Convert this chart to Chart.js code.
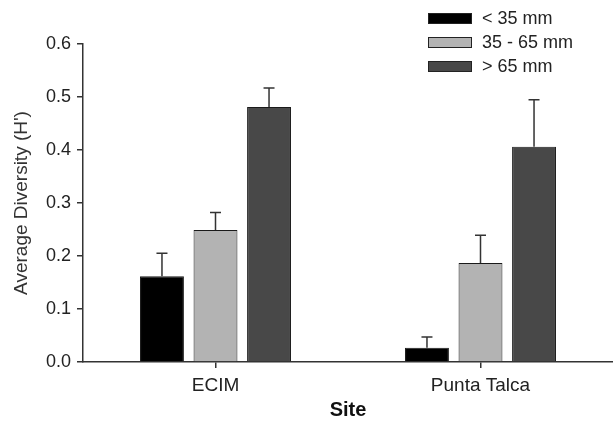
<!DOCTYPE html>
<html>
<head>
<meta charset="utf-8">
<script src="https://cdn.jsdelivr.net/npm/chart.js@4"></script>
<style>
  html, body { margin: 0; padding: 0; background: #fff; }
  #wrap { position: relative; width: 613px; height: 423px; }
  #legend { position: absolute; left: 428px; top: 6px; font-family: "Liberation Sans", Arial, sans-serif; font-size: 18px; color: #222; }
  #legend .row { height: 24px; display: flex; align-items: center; }
  #legend .box { width: 42px; height: 9px; border: 1px solid #222; margin-right: 10px; }
</style>
</head>
<body>
<div id="wrap">
  <canvas id="chart" width="613" height="423"></canvas>
  <div id="legend"></div>
</div>
<script>
// Data
const sites = ['ECIM', 'Punta Talca'];
const sizeClasses = ['< 35 mm', '35 - 65 mm', '> 65 mm'];
const small = [0.162, 0.027];
const smallErr = [0.043, 0.020];
const medium = [0.249, 0.187];
const mediumErr = [0.033, 0.052];
const large = [0.481, 0.406];
const largeErr = [0.036, 0.089];
const yTicks = [0, 0.1, 0.2, 0.3, 0.4, 0.5, 0.6];

const fills = ['#000000', '#b3b3b3', '#484848'];
const errors = [smallErr, mediumErr, largeErr];

// Upward error bars with a cap
const errorBars = {
  id: 'errorBars',
  afterDatasetsDraw(chart) {
    const ctx = chart.ctx;
    const yScale = chart.scales.y;
    ctx.save();
    ctx.strokeStyle = '#333';
    ctx.lineWidth = 1.5;
    chart.data.datasets.forEach((ds, di) => {
      const meta = chart.getDatasetMeta(di);
      meta.data.forEach((bar, i) => {
        const top = yScale.getPixelForValue(ds.data[i] + errors[di][i]);
        ctx.beginPath();
        ctx.moveTo(bar.x, bar.y);
        ctx.lineTo(bar.x, top);
        ctx.moveTo(bar.x - 5.5, top);
        ctx.lineTo(bar.x + 5.5, top);
        ctx.stroke();
      });
    });
    ctx.restore();
  }
};

const ctx = document.getElementById('chart').getContext('2d');
Chart.defaults.font.family = '"Liberation Sans", Arial, sans-serif';
Chart.defaults.color = '#222';

const chart = new Chart(ctx, {
  type: 'bar',
  data: {
    labels: sites,
    datasets: [
      { label: sizeClasses[0], data: small, backgroundColor: fills[0] },
      { label: sizeClasses[1], data: medium, backgroundColor: fills[1] },
      { label: sizeClasses[2], data: large, backgroundColor: fills[2] }
    ].map(d => Object.assign(d, { borderColor: '#1a1a1a', borderWidth: 1 }))
  },
  options: {
    responsive: false,
    animation: false,
    layout: { padding: { top: 44, right: 0, bottom: 0, left: 0 } },
    categoryPercentage: 0.606,
    barPercentage: 0.82,
    plugins: {
      legend: { display: false },
      tooltip: { enabled: false }
    },
    scales: {
      x: {
        afterFit(scale) { scale.height = 61; },
        grid: { display: true, drawOnChartArea: false, drawTicks: true, tickLength: 6, color: '#333', lineWidth: 1.5, offset: false },
        border: { display: true, color: '#333', width: 1.5 },
        ticks: { font: { size: 19 }, padding: 6, color: '#222' },
        title: { display: true, text: 'Site', font: { size: 20, weight: 'bold' }, color: '#111', padding: { top: 0, bottom: 1 } }
      },
      y: {
        min: 0,
        max: 0.6,
        afterFit(scale) { scale.width = 83; },
        afterBuildTicks(scale) { scale.ticks = yTicks.map(v => ({ value: v })); },
        grid: { display: true, drawOnChartArea: false, drawTicks: true, tickLength: 6, color: '#333', lineWidth: 1.5 },
        border: { display: true, color: '#333', width: 1.5 },
        ticks: { font: { size: 18 }, padding: 6, color: '#222', callback: v => Number(v).toFixed(1) },
        title: { display: true, text: "Average Diversity (H')", font: { size: 19 }, color: '#333', padding: { top: 10, bottom: 0 } }
      }
    }
  },
  plugins: [errorBars]
});

// Legend built from the datasets
const legend = document.getElementById('legend');
chart.data.datasets.forEach(ds => {
  const row = document.createElement('div');
  row.className = 'row';
  row.innerHTML = `<span class="box" style="background:${ds.backgroundColor}"></span><span>${ds.label}</span>`;
  legend.appendChild(row);
});
</script>
</body>
</html>
